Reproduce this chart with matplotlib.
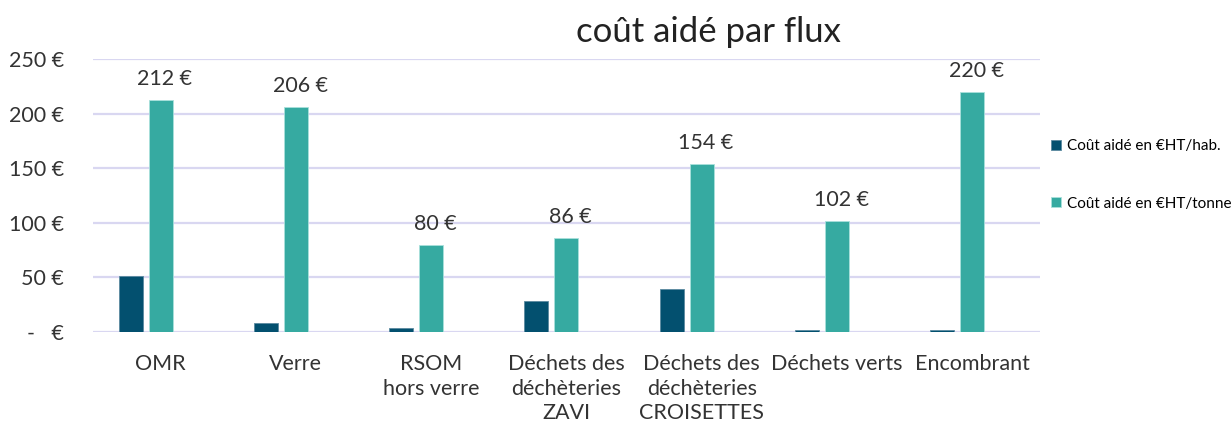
import numpy as np
import matplotlib.pyplot as plt

plt.rcParams['font.family'] = ['Lato', 'DejaVu Sans']

# données
categories = ['OMR', 'Verre', 'RSOM\nhors verre', 'Déchets des\ndéchèteries\nZAVI',
              'Déchets des\ndéchèteries\nCROISETTES', 'Déchets verts', 'Encombrant']
cout_hab = [51, 8, 4, 28, 39, 2, 2]
cout_tonne = [212, 206, 80, 86, 154, 102, 220]
yticks = [0, 50, 100, 150, 200, 250]
ytick_labels = ['-   €', '50 €', '100 €', '150 €', '200 €', '250 €']

col_hab = '#03506F'
col_tonne = '#36AAA1'
col_grid = '#D9D7F1'
col_txt = '#333333'

fig = plt.figure(figsize=(12.32, 4.29), dpi=100)
ax = fig.add_axes([0.0755, 0.226, 0.7685, 0.6365])

x = np.arange(len(categories))
w = 0.177
ecart = 0.222

ax.bar(x - ecart, cout_hab, width=w, color=col_hab, edgecolor='#5b8aa0', linewidth=0.6,
       label='Coût aidé en €HT/hab.', zorder=3)
ax.bar(x, cout_tonne, width=w, color=col_tonne, edgecolor='#a9e0dc', linewidth=0.6,
       label='Coût aidé en €HT/tonne', zorder=3)

for xi, v in zip(x, cout_tonne):
    ax.annotate(f'{v} €', (xi, v), xytext=(3, 8), textcoords='offset points',
                ha='center', va='bottom', fontsize=15.5, color=col_txt, annotation_clip=False)

ax.set_xlim(-0.5, len(categories) - 0.5)
ax.set_ylim(0, 250)
ax.set_yticks(yticks)
ax.set_yticklabels(ytick_labels, fontsize=15.5, color=col_txt)
ax.set_xticks(x)
ax.set_xticklabels(categories, fontsize=15.5, color=col_txt, linespacing=1.28, va='top')
ax.tick_params(length=0)
ax.tick_params(axis='x', pad=16)
ax.tick_params(axis='y', pad=21)
ax.grid(axis='y', color=col_grid, linewidth=1.6, zorder=0)
for s in ax.spines.values():
    s.set_visible(False)

ax.set_title('coût aidé par flux', fontsize=25, color='#222222', x=0.65, pad=12)

fig.legend(loc='upper left', bbox_to_anchor=(0.848, 0.69), frameon=False, fontsize=11,
           handlelength=0.65, handleheight=0.65, handletextpad=0.4, labelspacing=2.85,
           borderaxespad=0)

fig.savefig('out.png', dpi=100)
